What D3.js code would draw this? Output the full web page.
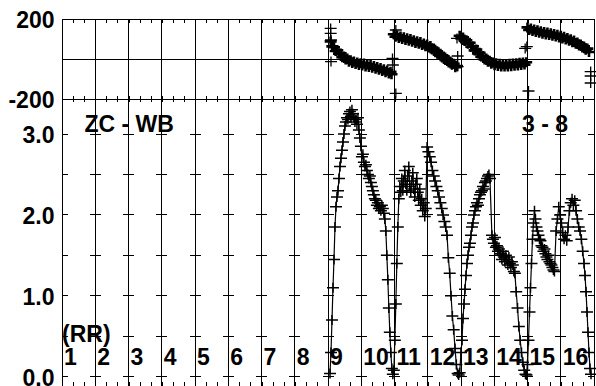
<!DOCTYPE html>
<html>
<head>
<meta charset="utf-8">
<script src="https://cdn.jsdelivr.net/npm/d3@7/dist/d3.min.js"></script>
<style>
  body { margin: 0; background: #fff; }
  svg { display: block; }
  text { font-family: "Liberation Sans", Arial, sans-serif; font-weight: bold; font-size: 23px; fill: #000; }
</style>
</head>
<body>
<div id="chart"></div>
<script>
// day labels along the bottom
const dayLabels = ["1","2","3","4","5","6","7","8","9","10","11","12","13","14","15","16"];
const phaseLabels = [200, -200];
const ratioLabels = [0, 1, 2, 3];
const ratioTicks = [0, 0.5, 1, 1.5, 2, 2.5, 3];

// lower panel: ratio vs time (days)
const ratio = [
  [8.06,0.04],[8.09,0.30],[8.12,0.70],[8.15,1.10],[8.18,1.45],[8.21,1.85],[8.24,2.10],[8.27,2.22],[8.30,2.30],[8.33,2.45],
  [8.36,2.60],[8.39,2.70],[8.42,2.80],[8.45,2.90],[8.48,3.00],[8.51,3.10],[8.54,3.15],[8.57,3.20],[8.60,3.18],[8.63,3.25],
  [8.66,3.28],[8.69,3.22],[8.72,3.30],[8.75,3.25],[8.78,3.20],[8.81,3.15],[8.84,3.18],[8.87,3.12],[8.90,3.20],[8.93,3.05],
  [8.96,2.95],[8.99,2.85],[9.02,2.72],[9.05,2.75],[9.08,2.65],[9.11,2.60],[9.14,2.62],[9.17,2.55],[9.20,2.50],[9.23,2.45],
  [9.26,2.48],[9.29,2.40],[9.32,2.35],[9.35,2.30],[9.38,2.25],[9.41,2.20],[9.44,2.18],[9.47,2.12],[9.50,2.15],[9.53,2.08],
  [9.56,2.10],[9.59,2.05],[9.62,2.12],[9.65,2.08],[9.68,2.02],[9.71,1.95],[9.74,1.80],[9.77,1.50],[9.80,1.20],[9.83,0.85],
  [9.86,0.55],[9.89,0.30],[9.92,0.10],[9.95,0.03],[9.98,0.08],[10.01,0.45],[10.04,0.90],[10.07,1.40],[10.10,1.85],[10.13,2.20],
  [10.16,2.35],[10.19,2.28],[10.22,2.45],[10.25,2.30],[10.28,2.42],[10.31,2.55],[10.34,2.38],[10.37,2.30],[10.40,2.48],[10.43,2.60],
  [10.46,2.35],[10.49,2.28],[10.52,2.42],[10.55,2.52],[10.58,2.32],[10.61,2.22],[10.64,2.38],[10.67,2.45],[10.70,2.28],[10.73,2.18],
  [10.76,2.32],[10.79,2.12],[10.82,2.20],[10.85,2.05],[10.88,2.15],[10.91,1.98],[10.94,2.08],
  [10.98,2.84],[11.02,2.78],[11.06,2.72],[11.10,2.65],[11.14,2.55],[11.18,2.48],[11.22,2.42],[11.26,2.35],[11.30,2.30],[11.34,2.22],
  [11.38,2.15],[11.42,2.08],[11.46,2.00],[11.50,1.92],[11.54,1.85],[11.58,1.75],[11.62,1.47],[11.66,1.28],[11.70,1.00],[11.74,0.75],
  [11.78,0.58],[11.82,0.35],[11.86,0.15],[11.90,0.04],[11.93,0.02],[11.96,0.05],
  [12.00,0.30],[12.03,0.45],[12.06,0.72],[12.09,0.90],[12.12,1.08],[12.15,1.25],[12.18,1.40],[12.21,1.50],[12.24,1.60],[12.27,1.65],
  [12.30,1.75],[12.33,1.85],[12.36,1.90],[12.39,2.00],[12.42,2.05],[12.45,2.10],[12.48,2.15],[12.51,2.12],[12.54,2.20],[12.57,2.25],
  [12.60,2.28],[12.63,2.30],[12.66,2.35],[12.69,2.32],[12.72,2.40],[12.75,2.42],[12.78,2.45],[12.81,2.48],[12.84,2.50],[12.87,2.45],
  [12.93,1.75],[12.96,1.70],[12.99,1.65],[13.02,1.72],[13.05,1.60],[13.08,1.62],[13.11,1.55],[13.14,1.58],[13.17,1.50],[13.20,1.52],
  [13.23,1.45],[13.26,1.55],[13.29,1.48],[13.32,1.42],[13.35,1.50],[13.38,1.45],[13.41,1.38],[13.44,1.48],[13.47,1.40],[13.50,1.35],
  [13.53,1.42],[13.56,1.38],[13.59,1.30],
  [13.62,1.28],[13.66,1.05],[13.70,0.85],[13.74,0.62],[13.78,0.45],[13.82,0.30],[13.86,0.18],[13.90,0.08],[13.94,0.03],[13.97,0.02],
  [14.00,0.15],[14.03,0.45],[14.06,0.80],[14.09,1.10],[14.12,1.40],[14.15,1.70],[14.18,1.90],[14.21,2.05],
  [14.24,1.95],[14.27,1.85],[14.30,1.80],[14.33,1.75],[14.36,1.70],[14.39,1.68],[14.42,1.62],[14.45,1.60],[14.48,1.55],[14.51,1.58],
  [14.54,1.52],[14.57,1.48],[14.60,1.45],[14.63,1.50],[14.66,1.42],[14.69,1.40],[14.72,1.38],[14.75,1.35],[14.78,1.32],[14.81,1.30],
  [14.86,1.80],[14.90,1.95],[14.94,2.10],[14.98,2.00],[15.02,1.90],[15.06,1.78],[15.10,1.70],[15.14,1.75],[15.18,1.68],[15.22,1.85],
  [15.26,2.05],[15.30,2.15],[15.34,2.20],[15.38,2.12],[15.42,2.18],[15.46,2.05],[15.50,1.95],[15.54,1.85],[15.58,1.80],[15.62,1.70],
  [15.66,1.55],[15.70,1.40],[15.73,1.25],[15.76,1.05],[15.79,0.80],[15.82,0.55],[15.85,0.30],[15.88,0.10],[15.91,0.03]
];

// upper panel: phase (deg) vs time, four bands plus stray points
const phaseBand1 = [
  [8.08,88],[8.13,63],[8.18,59],[8.23,40],[8.28,43],[8.33,27],[8.38,28],[8.43,9],[8.48,12],[8.53,-3],
  [8.58,2],[8.63,-14],[8.68,-6],[8.73,-20],[8.78,-12],[8.83,-25],[8.88,-17],[8.93,-30],[8.98,-21],[9.03,-33],
  [9.08,-23],[9.13,-37],[9.18,-27],[9.23,-40],[9.28,-30],[9.33,-44],[9.38,-35],[9.43,-49],[9.48,-40],[9.53,-54],
  [9.58,-45],[9.63,-60],[9.68,-51],[9.73,-66],[9.78,-57],[9.83,-72],[9.88,-64],[9.91,-76]
];
const phaseBand2 = [
  [9.98,124],[10.03,111],[10.08,118],[10.13,105],[10.18,113],[10.23,100],[10.28,109],[10.33,95],[10.38,104],[10.43,91],
  [10.48,100],[10.53,86],[10.58,94],[10.63,80],[10.68,89],[10.73,76],[10.78,85],[10.83,70],[10.88,78],[10.93,64],
  [10.98,72],[11.03,58],[11.08,65],[11.13,47],[11.18,52],[11.23,34],[11.28,39],[11.33,21],[11.38,26],[11.43,8],
  [11.48,13],[11.53,-5],[11.58,0],[11.63,-18],[11.68,-13],[11.73,-29],[11.78,-24],[11.83,-41],[11.88,-35]
];
const phaseBand3 = [
  [11.96,116],[12.01,103],[12.06,108],[12.11,90],[12.16,94],[12.21,76],[12.26,81],[12.31,61],[12.36,63],[12.41,43],
  [12.46,47],[12.51,28],[12.56,31],[12.61,12],[12.66,15],[12.71,-2],[12.76,3],[12.81,-14],[12.86,-9],[12.91,-24],
  [12.96,-17],[13.01,-31],[13.06,-21],[13.11,-35],[13.16,-24],[13.21,-37],[13.26,-26],[13.31,-38],[13.36,-26],[13.41,-37],
  [13.46,-24],[13.51,-36],[13.56,-23],[13.61,-34],[13.66,-21],[13.71,-32],[13.76,-19],[13.81,-30],[13.86,-17],[13.91,-28],[13.96,-16]
];
const phaseBand4 = [
  [14.00,158],[14.05,145],[14.10,153],[14.15,140],[14.20,148],[14.25,135],[14.30,144],[14.35,131],[14.40,139],[14.45,126],
  [14.50,135],[14.55,122],[14.60,132],[14.65,120],[14.70,129],[14.75,116],[14.80,125],[14.85,112],[14.90,121],[14.95,107],
  [15.00,116],[15.05,102],[15.10,111],[15.15,97],[15.20,105],[15.25,91],[15.30,99],[15.35,84],[15.40,92],[15.45,76],
  [15.50,83],[15.55,67],[15.60,73],[15.65,57],[15.70,63],[15.75,46],[15.80,52],[15.85,35]
];
const phaseStray = [
  [8.08,153],[8.08,128],[8.09,95],[8.09,-13],[9.94,3],[9.95,-30],[10.04,145],[10.04,-172],
  [11.88,103],[11.90,15],[11.90,-38],[13.93,53],[13.98,62],[14.03,-160],[15.90,-63],[15.90,-85],[15.90,-120]
];

const width = 596, height = 386;
const svg = d3.select("#chart").append("svg")
  .attr("width", width).attr("height", height);

const x = d3.scaleLinear().domain([0, 16]).range([62, 594]);
const yTop = d3.scaleLinear().domain([-200, 200]).range([99, 19]);
const yBot = d3.scaleLinear().domain([-0.115, 3.433]).range([386, 99]);

const minor = d3.range(0, 49).map(i => i / 3);
const grid = svg.append("g").attr("shape-rendering", "crispEdges");

// small day ticks: top edge, panel separator (both ways), bottom edge
function tickAxis(axis, y) {
  const g = grid.append("g").attr("transform", `translate(0,${y})`).call(axis);
  g.selectAll("line").attr("stroke", "#000");
  g.select(".domain").attr("stroke", "#000");
  return g;
}
tickAxis(d3.axisTop(x).tickValues(minor).tickSize(-3.5).tickSizeOuter(0).tickFormat(""), yTop(200));
tickAxis(d3.axisTop(x).tickValues(minor).tickSize(3).tickSizeOuter(0).tickFormat(""), yTop(-200));
tickAxis(d3.axisBottom(x).tickValues(minor).tickSize(3).tickSizeOuter(0).tickFormat(""), yTop(-200));
tickAxis(d3.axisBottom(x).tickValues(minor).tickSize(-4).tickSizeOuter(0).tickFormat(""), yBot(-0.115) - 0.5);

// zero line of the phase panel
grid.append("line")
  .attr("x1", x(0)).attr("x2", x(16))
  .attr("y1", yTop(0)).attr("y2", yTop(0))
  .attr("stroke", "#000");

// vertical day lines and frame sides
grid.selectAll(".vline").data(d3.range(0, 17)).join("line")
  .attr("x1", d => x(d)).attr("x2", d => x(d))
  .attr("y1", yTop(200)).attr("y2", height)
  .attr("stroke", "#000");

// ratio ticks: crosses on every day line, inward ticks on frame sides
const crossData = [];
ratioTicks.forEach(v => d3.range(0, 17).forEach(d => crossData.push([d, v])));
grid.selectAll(".cross").data(crossData).join("line")
  .attr("x1", d => d[0] === 0 ? x(0) : x(d[0]) - (d[0] === 16 ? 6 : 5.5))
  .attr("x2", d => d[0] === 16 ? x(16) : x(d[0]) + (d[0] === 0 ? 6 : 5.5))
  .attr("y1", d => yBot(d[1])).attr("y2", d => yBot(d[1]))
  .attr("stroke", "#000");

// marks
const plus = "M-6,0H6M0,-5V5";
const marks = svg.append("g").attr("stroke", "#000").attr("fill", "none");

function plusMarks(data, yScale, sw) {
  marks.append("g").attr("stroke-width", sw)
    .selectAll("path").data(data).join("path")
    .attr("d", plus)
    .attr("transform", d => `translate(${x(d[0])},${yScale(d[1])})`);
}
[phaseBand1, phaseBand2, phaseBand3, phaseBand4].forEach(band => plusMarks(band, yTop, 2.6));
plusMarks(phaseStray, yTop, 1.3);

const line = d3.line().x(d => x(d[0])).y(d => yBot(d[1]));
marks.append("path").datum(ratio).attr("d", line).attr("stroke-width", 1.2);
plusMarks(ratio, yBot, 1.5);

// text
const txt = svg.append("g");
txt.selectAll(".pl").data(phaseLabels).join("text")
  .attr("x", 54.5).attr("y", d => yTop(d) + 9.3)
  .attr("text-anchor", "end")
  .text(d => d);
txt.selectAll(".rl").data(ratioLabels).join("text")
  .attr("x", 54.5).attr("y", d => yBot(d) + 9.3)
  .attr("text-anchor", "end")
  .text(d => d3.format(".1f")(d));
txt.selectAll(".dl").data(dayLabels).join("text")
  .attr("x", (d, i) => x(i) + 2).attr("y", 365)
  .text(d => d);
txt.append("text").attr("x", 62).attr("y", 342).text("(RR)");
txt.append("text").attr("x", 84.5).attr("y", 132).text("ZC - WB");
txt.append("text").attr("x", 522).attr("y", 131.5).text("3 - 8");
</script>
</body>
</html>
